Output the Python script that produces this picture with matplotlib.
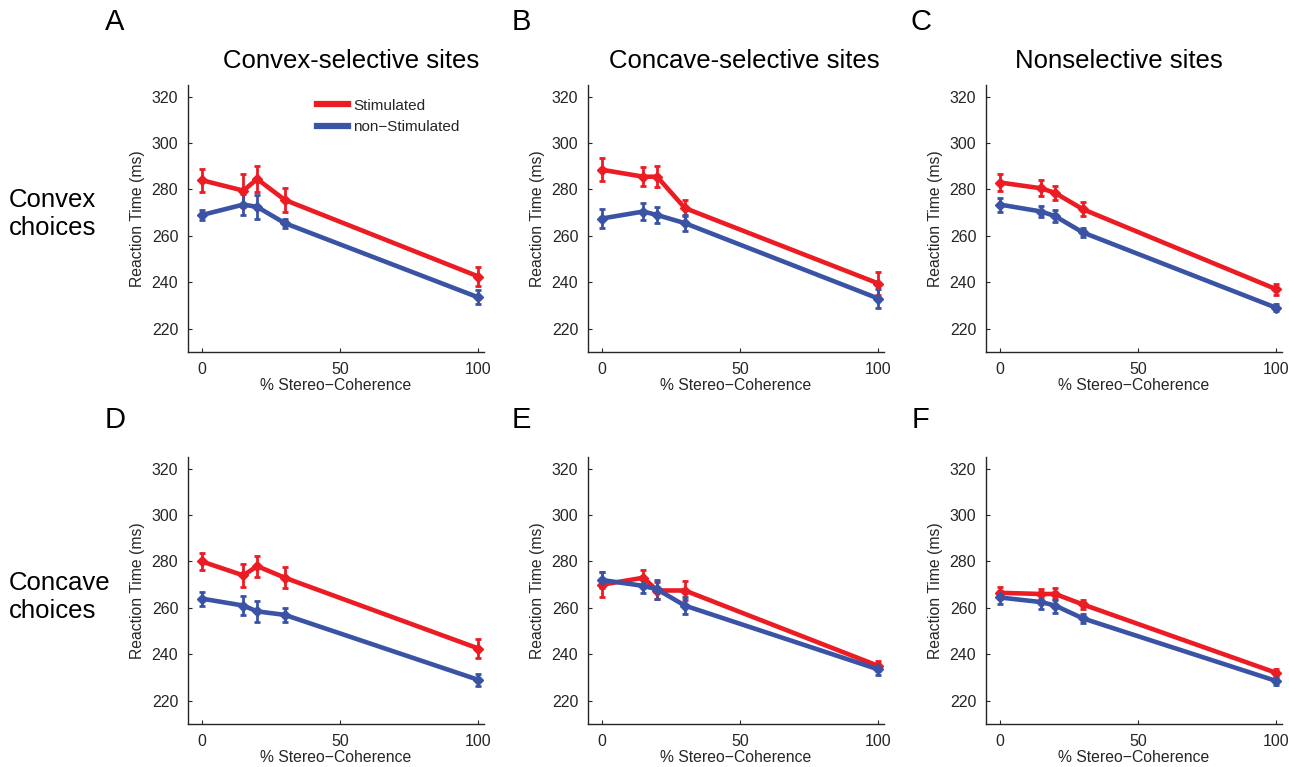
import matplotlib
matplotlib.use("Agg")
import matplotlib.pyplot as plt
from matplotlib.lines import Line2D

plt.rcParams['font.family'] = ['Liberation Sans', 'DejaVu Sans']

coherence = [0, 15, 20, 30, 100]

# mean RT and error (ms), per panel A-F
stim_A = [284, 279.5, 284.5, 275.5, 242.5]
stim_A_err = [5, 7, 5.5, 5, 4]
non_A = [269, 273.5, 272.5, 265.5, 233.5]
non_A_err = [2, 4.5, 5, 2, 3]

stim_B = [288.5, 285.5, 285.5, 272, 239.5]
stim_B_err = [5, 4, 4.5, 3.5, 5]
non_B = [267.5, 270.5, 269, 265.5, 233]
non_B_err = [4, 3.5, 3.5, 3.5, 4]

stim_C = [283, 280.5, 278.5, 271.5, 237]
stim_C_err = [3.5, 3.5, 3, 3, 2.5]
non_C = [273.5, 270.5, 268.5, 261.5, 229]
non_C_err = [3, 2.5, 2.5, 2, 1.5]

stim_D = [280, 274, 278, 273, 242.5]
stim_D_err = [3.5, 5, 4.5, 4.5, 4]
non_D = [264, 261, 258.5, 257, 229]
non_D_err = [3, 4, 4.5, 3, 2.5]

stim_E = [270, 273, 267.5, 267.5, 235]
stim_E_err = [5.5, 3.5, 3.5, 4, 2]
non_E = [272, 269.5, 268, 261, 233.5]
non_E_err = [3.5, 3, 4, 3.5, 2.5]

stim_F = [266.5, 266, 266, 261.5, 232]
stim_F_err = [2.5, 2, 2.5, 2, 1.5]
non_F = [264.5, 262.5, 261, 255.5, 228.5]
non_F_err = [3, 3, 3, 2, 1.5]

panels = [
    ('A', stim_A, stim_A_err, non_A, non_A_err),
    ('B', stim_B, stim_B_err, non_B, non_B_err),
    ('C', stim_C, stim_C_err, non_C, non_C_err),
    ('D', stim_D, stim_D_err, non_D, non_D_err),
    ('E', stim_E, stim_E_err, non_E, non_E_err),
    ('F', stim_F, stim_F_err, non_F, non_F_err),
]
col_titles = ['Convex-selective sites', 'Concave-selective sites', 'Nonselective sites']
row_labels = ['Convex\nchoices', 'Concave\nchoices']

RED = '#ec1c24'
BLUE = '#3a53a4'
DARK = '#262626'

W, H = 1289, 767
fig = plt.figure(figsize=(W / 100, H / 100), dpi=100)

col_left = [188, 588, 986]
row_top = [85, 457]
ax_w, ax_h = 296, 267
letter_x = [115, 521, 921]

for i, (letter, s, se, n, ne) in enumerate(panels):
    r, c = divmod(i, 3)
    ax = fig.add_axes([col_left[c] / W, 1 - (row_top[r] + ax_h) / H, ax_w / W, ax_h / H])
    ax.errorbar(coherence, s, yerr=se, color=RED, lw=3.3, marker='D', ms=5,
                elinewidth=2, capsize=2.5, capthick=2, label='Stimulated')
    ax.errorbar(coherence, n, yerr=ne, color=BLUE, lw=3.3, marker='D', ms=5,
                elinewidth=2, capsize=2.5, capthick=2, label='non\u2212Stimulated')
    ax.set_xlim(-5, 102)
    ax.set_ylim(210, 325)
    ax.set_xticks([0, 50, 100])
    ax.set_yticks([220, 240, 260, 280, 300, 320])
    for sp in ['top', 'right']:
        ax.spines[sp].set_visible(False)
    for sp in ['left', 'bottom']:
        ax.spines[sp].set_color(DARK)
        ax.spines[sp].set_linewidth(1)
    ax.tick_params(direction='in', length=3, width=0.8, colors=DARK,
                   labelsize=11.5, pad=7)
    ax.set_ylabel('Reaction Time (ms)', fontsize=11.3, color=DARK, labelpad=5)
    ax.set_xlabel('% Stereo\u2212Coherence', fontsize=11.3, color=DARK, labelpad=1)
    if i == 0:
        labels = ['Stimulated', 'non\u2212Stimulated']
        hl = [Line2D([], [], color=RED, lw=4.5), Line2D([], [], color=BLUE, lw=4.5)]
        ax.legend(hl, labels, loc='upper left', bbox_to_anchor=(0.39, 1.0),
                  frameon=False, fontsize=11, handlelength=2.0,
                  handletextpad=0.35, labelspacing=0.5, labelcolor=DARK)
    fig.text(letter_x[c] / W, 1 - (22 if r == 0 else 420) / H, letter,
             fontsize=21, ha='center', va='center')

title_x = [351, 744, 1119]
for c, t in enumerate(col_titles):
    fig.text(title_x[c] / W, 1 - 61 / H, t, fontsize=18.5, ha='center', va='center')

row_y = [214, 597]
for r, t in enumerate(row_labels):
    fig.text(9 / W, 1 - row_y[r] / H, t, fontsize=18.5, ha='left', va='center',
             linespacing=1.25)

fig.savefig('out.png', dpi=100)
